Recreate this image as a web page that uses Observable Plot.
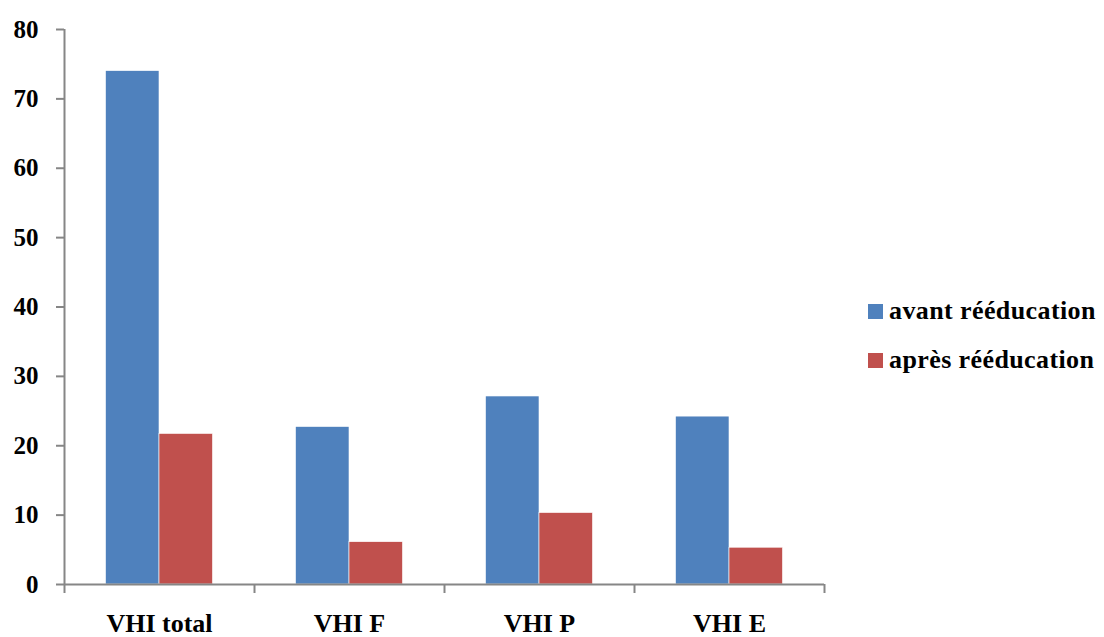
<!DOCTYPE html>
<html>
<head>
<meta charset="utf-8">
<script src="https://cdn.jsdelivr.net/npm/d3@7"></script>
<script src="https://cdn.jsdelivr.net/npm/@observablehq/plot@0.6"></script>
<style>
  body { margin: 0; background: #fff; }
  #wrap { position: relative; width: 1104px; height: 637px; }
  .legend { position: absolute; left: 868px; font-family: "Liberation Serif", serif; font-weight: bold; font-size: 26px; letter-spacing: 0.4px; line-height: 30px; color: #000; display: flex; align-items: center; white-space: nowrap; }
  .legend span.sw { display: inline-block; width: 15px; height: 15px; margin-right: 6px; }
</style>
</head>
<body>
<div id="wrap"></div>
<script>
const categories = ["VHI total", "VHI F", "VHI P", "VHI E"];
const series = ["avant rééducation", "après rééducation"];
const avant = [74.0, 22.7, 27.1, 24.2];
const apres = [21.7, 6.1, 10.3, 5.3];
const yTicks = [0, 10, 20, 30, 40, 50, 60, 70, 80];
const colors = ["#4F81BD", "#C0504D"];

const data = categories.flatMap((c, i) => [
  {cat: c, i, s: 0, series: series[0], value: avant[i]},
  {cat: c, i, s: 1, series: series[1], value: apres[i]}
]);

const gap = 0.2185, bw = (1 - 2 * gap) / 2;

const chart = Plot.plot({
  width: 1104,
  height: 637,
  marginLeft: 64,
  marginRight: 280,
  marginTop: 29,
  marginBottom: 53,
  style: {fontFamily: "Liberation Serif, serif", fontWeight: "bold", color: "#000", background: "#fff"},
  x: {domain: [0, categories.length], axis: null},
  y: {domain: [0, 80], axis: null},
  color: {domain: series, range: colors},
  marks: [
    Plot.rectY(data, {
      x1: d => d.i + gap + d.s * bw,
      x2: d => d.i + gap + (d.s + 1) * bw,
      y1: 0,
      y2: "value",
      fill: "series",
      stroke: "#fff",
      strokeWidth: 0.6
    }),
    Plot.ruleY([0], {stroke: "#868686", strokeWidth: 2}),
    Plot.ruleX([0], {stroke: "#868686", strokeWidth: 2}),
    Plot.axisY({ticks: yTicks, tickSize: 8, tickPadding: 18, stroke: "#868686", strokeWidth: 2, fontSize: 25, fontWeight: "bold", fill: "#000", label: null}),
    Plot.axisX({ticks: d3.range(categories.length + 1), tickSize: 9, tickFormat: () => "", stroke: "#868686", strokeWidth: 2, label: null}),
    Plot.axisX({ticks: categories.map((c, i) => i + 0.5), tickSize: 0, tickPadding: 29, tickFormat: d => categories[Math.floor(d)], fontSize: 26, fontWeight: "bold", fill: "#000", label: null})
  ]
});

const wrap = document.getElementById("wrap");
wrap.appendChild(chart);

const tops = [296, 345];
series.forEach((s, k) => {
  const div = document.createElement("div");
  div.className = "legend";
  div.style.top = tops[k] + "px";
  const sw = document.createElement("span");
  sw.className = "sw";
  sw.style.background = colors[k];
  div.appendChild(sw);
  div.appendChild(document.createTextNode(s));
  wrap.appendChild(div);
});
</script>
</body>
</html>
